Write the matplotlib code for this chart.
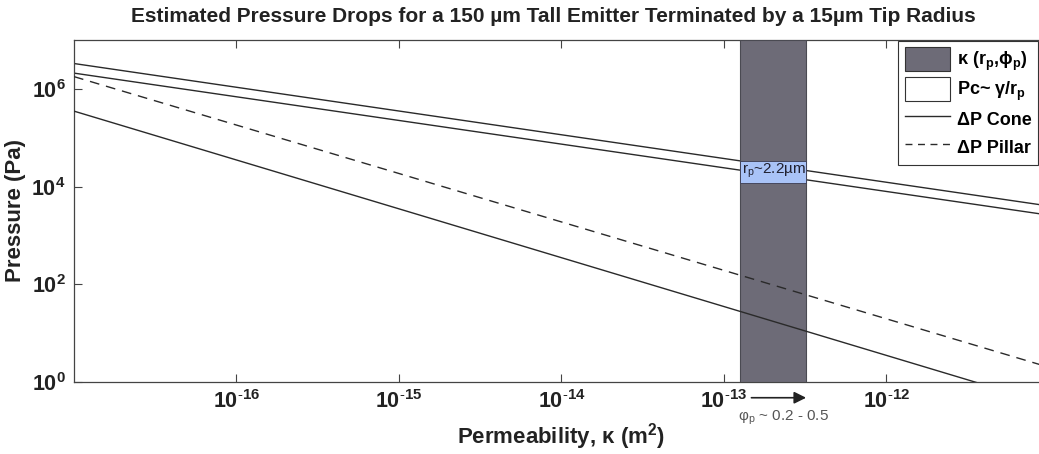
import math
import matplotlib
matplotlib.use("Agg")
import matplotlib.pyplot as plt
from matplotlib.patches import Patch, Rectangle
from matplotlib.lines import Line2D
from matplotlib.ticker import FixedLocator, FuncFormatter, NullLocator

plt.rcParams["font.family"] = ["Liberation Sans", "DejaVu Sans"]
plt.rcParams["mathtext.fontset"] = "custom"
plt.rcParams["mathtext.rm"] = "Liberation Sans"
plt.rcParams["mathtext.bf"] = "Liberation Sans:bold"
plt.rcParams["mathtext.it"] = "Liberation Sans:italic"
plt.rcParams["mathtext.default"] = "bf"

# permeability range (m^2) spanned by the lines
kappa_ends = [1e-17, 1e-11]

# capillary pressure bounds Pc ~ gamma/r_p (Pa) at the two ends
pc_upper = [3.3e6, 4.0e3]
pc_lower = [2.1e6, 2.6e3]

# pressure drops (Pa) at the two ends
dp_cone = [3.5e5, 0.35]
dp_pillar = [1.78e6, 2.0]

# permeability band for the porous media and pressure window for r_p ~ 2.2 um
band_kappa = [1.26e-13, 3.2e-13]
rp_window = [1.2e4, 3.3e4]

x_ticks = [1e-16, 1e-15, 1e-14, 1e-13, 1e-12]
y_ticks = [1e0, 1e2, 1e4, 1e6]

band_color = "#6d6b77"
blue_color = "#a9c3f7"
line_color = "#2a2a2a"


def pow10(v, pos):
    e = round(math.log10(v))
    return "10$^{\\mathbf{%s}}$" % (("\\text{-}%d" % -e) if e < 0 else "%d" % e)


fig = plt.figure(figsize=(10.39, 4.54), dpi=100)
ax = fig.add_axes([74 / 1039, 1 - 382 / 454, 975 / 1039, 342 / 454])

ax.plot(kappa_ends, pc_upper, color=line_color, lw=1.0, zorder=2)
ax.plot(kappa_ends, pc_lower, color=line_color, lw=1.0, zorder=2)

ax.axvspan(band_kappa[0], band_kappa[1], facecolor=band_color,
           edgecolor="#4a4a52", lw=0.8, zorder=3)
ax.add_patch(Rectangle((band_kappa[0], rp_window[0]),
                       band_kappa[1] - band_kappa[0],
                       rp_window[1] - rp_window[0],
                       facecolor=blue_color, edgecolor="#3a3a50", lw=0.6,
                       zorder=4))
ax.text(band_kappa[0] * 1.02, rp_window[1] * 0.97, "r$_\\mathrm{p}$~2.2µm",
        fontsize=11, ha="left", va="top", color="#202030", zorder=5)

ax.plot(kappa_ends, dp_cone, color=line_color, lw=1.0, zorder=5)
ax.plot(kappa_ends, dp_pillar, color=line_color, lw=1.0,
        dashes=(7, 5), zorder=5)

ax.set_xscale("log")
ax.set_yscale("log")
ax.set_xlim(kappa_ends[0], kappa_ends[1])
ax.set_ylim(1e0, 1e7)

ax.xaxis.set_major_locator(FixedLocator(x_ticks))
ax.yaxis.set_major_locator(FixedLocator(y_ticks))
ax.xaxis.set_minor_locator(NullLocator())
ax.yaxis.set_minor_locator(NullLocator())
ax.xaxis.set_major_formatter(FuncFormatter(pow10))
ax.yaxis.set_major_formatter(FuncFormatter(pow10))
ax.tick_params(which="both", direction="in", top=True, right=True,
               length=6, width=0.8, color="#444444", labelsize=15.5,
               pad=6, labelcolor="#222222")
for lab in ax.get_xticklabels() + ax.get_yticklabels():
    lab.set_fontweight("bold")

for s in ax.spines.values():
    s.set_color("#444444")
    s.set_linewidth(0.9)

ax.set_xlabel("Permeability, κ (m$^2$)", fontsize=16, fontweight="bold",
              color="#222222", labelpad=6)
ax.set_ylabel("Pressure (Pa)", fontsize=16, fontweight="bold",
              color="#222222")
ax.yaxis.set_label_coords(-0.049, 0.5)
fig.text(553 / 1039, 1 - 16 / 454,
         "Estimated Pressure Drops for a 150 µm Tall Emitter Terminated by a 15µm Tip Radius",
         fontsize=15, fontweight="bold", ha="center", va="center",
         color="#222222")

# arrow and porosity note below the axis
ax.annotate("", xy=(band_kappa[1], -0.046), xytext=(band_kappa[0], -0.046),
            xycoords=("data", "axes fraction"),
            textcoords=("data", "axes fraction"),
            arrowprops=dict(arrowstyle="-|>", color="#222222", lw=1.2,
                            mutation_scale=18, shrinkA=8, shrinkB=0),
            annotation_clip=False)
ax.text(band_kappa[0] * 0.97, -0.105, "φ$_\\mathrm{p}$ ~ 0.2 - 0.5",
        transform=ax.get_xaxis_transform(), fontsize=11, ha="left",
        va="center", color="#555555", clip_on=False)

handles = [
    Patch(facecolor=band_color, edgecolor="#333333", lw=0.8),
    Patch(facecolor="white", edgecolor="#333333", lw=0.8),
    Line2D([], [], color=line_color, lw=1.0),
    Line2D([], [], color=line_color, lw=1.0, dashes=(5, 4)),
]
labels = [
    "κ (r$_\\mathbf{p}$,ϕ$_\\mathbf{p}$)",
    "Pc~ γ/r$_\\mathbf{p}$",
    "ΔP Cone",
    "ΔP Pillar",
]
leg = ax.legend(handles, labels, loc="upper right",
                bbox_to_anchor=(1038 / 1039, 1 - 41 / 454),
                bbox_transform=fig.transFigure,
                prop={"weight": "bold", "size": 13},
                handlelength=2.5, handleheight=1.6, handletextpad=0.4,
                labelspacing=0.25, borderpad=0.35, fancybox=False,
                framealpha=1, edgecolor="#333333", borderaxespad=0)
leg.get_frame().set_linewidth(0.8)

fig.savefig("out.png", dpi=100)
